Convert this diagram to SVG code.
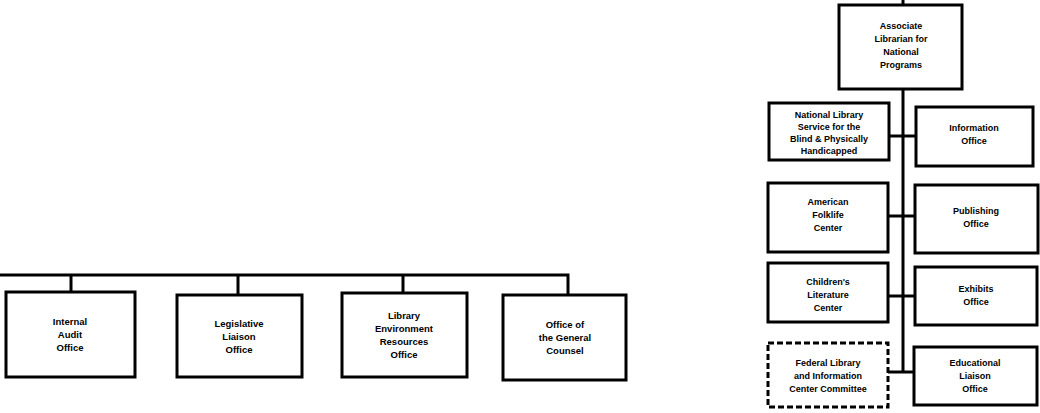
<svg xmlns="http://www.w3.org/2000/svg" width="1040" height="413" viewBox="0 0 1040 413">
<style>
.box{fill:#fff;stroke:#000;stroke-width:3}
.dash{fill:#fff;stroke:#000;stroke-width:3;stroke-dasharray:6 3}
.ln{fill:none;stroke:#000;stroke-width:3}
.t{font-family:"Liberation Sans",Arial,sans-serif;font-weight:bold;font-size:9px;text-anchor:middle;fill:#000}
.tl{font-family:"Liberation Sans",Arial,sans-serif;font-weight:bold;font-size:9.5px;text-anchor:middle;fill:#000}
</style>
<rect width="1040" height="413" fill="#fff"/>
<g id="connectors">
<polyline class="ln" points="0,275 568,275 568,295"/>
<line class="ln" x1="71" y1="275" x2="71" y2="292"/>
<line class="ln" x1="238" y1="275" x2="238" y2="295"/>
<line class="ln" x1="403" y1="275" x2="403" y2="293"/>
<line class="ln" x1="903" y1="0" x2="903" y2="5"/>
<line class="ln" x1="903" y1="89" x2="903" y2="373"/>
<line class="ln" x1="889" y1="136" x2="916" y2="136"/>
<line class="ln" x1="888" y1="216" x2="915" y2="216"/>
<line class="ln" x1="888" y1="296" x2="915" y2="296"/>
<line class="ln" x1="888" y1="372" x2="914" y2="372"/>
</g>
<g id="internal-audit">
<rect class="box" x="6" y="292" width="129" height="85"/>
<text class="tl" x="70" y="325">Internal</text>
<text class="tl" x="70" y="338">Audit</text>
<text class="tl" x="70" y="351">Office</text>
</g>
<g id="legislative-liaison">
<rect class="box" x="177" y="295" width="125" height="82"/>
<text class="tl" x="239" y="327">Legislative</text>
<text class="tl" x="239" y="340">Liaison</text>
<text class="tl" x="239" y="353">Office</text>
</g>
<g id="library-environment">
<rect class="box" x="342" y="293" width="125" height="84"/>
<text class="tl" x="404" y="319">Library</text>
<text class="tl" x="404" y="332">Environment</text>
<text class="tl" x="404" y="345">Resources</text>
<text class="tl" x="404" y="358">Office</text>
</g>
<g id="general-counsel">
<rect class="box" x="503" y="295" width="123" height="85"/>
<text class="tl" x="565" y="328">Office of</text>
<text class="tl" x="565" y="341">the General</text>
<text class="tl" x="565" y="354">Counsel</text>
</g>
<g id="associate-librarian">
<rect class="box" x="839" y="5" width="123" height="84"/>
<text class="t" x="901" y="29">Associate</text>
<text class="t" x="901" y="42">Librarian for</text>
<text class="t" x="901" y="55">National</text>
<text class="t" x="901" y="68">Programs</text>
</g>
<g id="nls-blind">
<rect class="box" x="769" y="103" width="120" height="57"/>
<text class="t" x="829" y="118">National Library</text>
<text class="t" x="829" y="130">Service for the</text>
<text class="t" x="829" y="142">Blind &amp; Physically</text>
<text class="t" x="829" y="154">Handicapped</text>
</g>
<g id="information-office">
<rect class="box" x="916" y="107" width="117" height="59"/>
<text class="t" x="974" y="131">Information</text>
<text class="t" x="974" y="144">Office</text>
</g>
<g id="american-folklife">
<rect class="box" x="768" y="183" width="120" height="69"/>
<text class="t" x="828" y="205">American</text>
<text class="t" x="828" y="218">Folklife</text>
<text class="t" x="828" y="231">Center</text>
</g>
<g id="publishing-office">
<rect class="box" x="915" y="185" width="123" height="68"/>
<text class="t" x="976" y="214">Publishing</text>
<text class="t" x="976" y="227">Office</text>
</g>
<g id="childrens-literature">
<rect class="box" x="768" y="263" width="120" height="59"/>
<text class="t" x="828" y="285">Children's</text>
<text class="t" x="828" y="298">Literature</text>
<text class="t" x="828" y="311">Center</text>
</g>
<g id="exhibits-office">
<rect class="box" x="915" y="267" width="122" height="58"/>
<text class="t" x="976" y="292">Exhibits</text>
<text class="t" x="976" y="305">Office</text>
</g>
<g id="federal-library">
<rect class="dash" x="768" y="343" width="120" height="64"/>
<text class="t" x="828" y="366">Federal Library</text>
<text class="t" x="828" y="379">and Information</text>
<text class="t" x="828" y="392">Center Committee</text>
</g>
<g id="educational-liaison">
<rect class="box" x="914" y="347" width="123" height="58"/>
<text class="t" x="975" y="366">Educational</text>
<text class="t" x="975" y="379">Liaison</text>
<text class="t" x="975" y="392">Office</text>
</g>
</svg>
